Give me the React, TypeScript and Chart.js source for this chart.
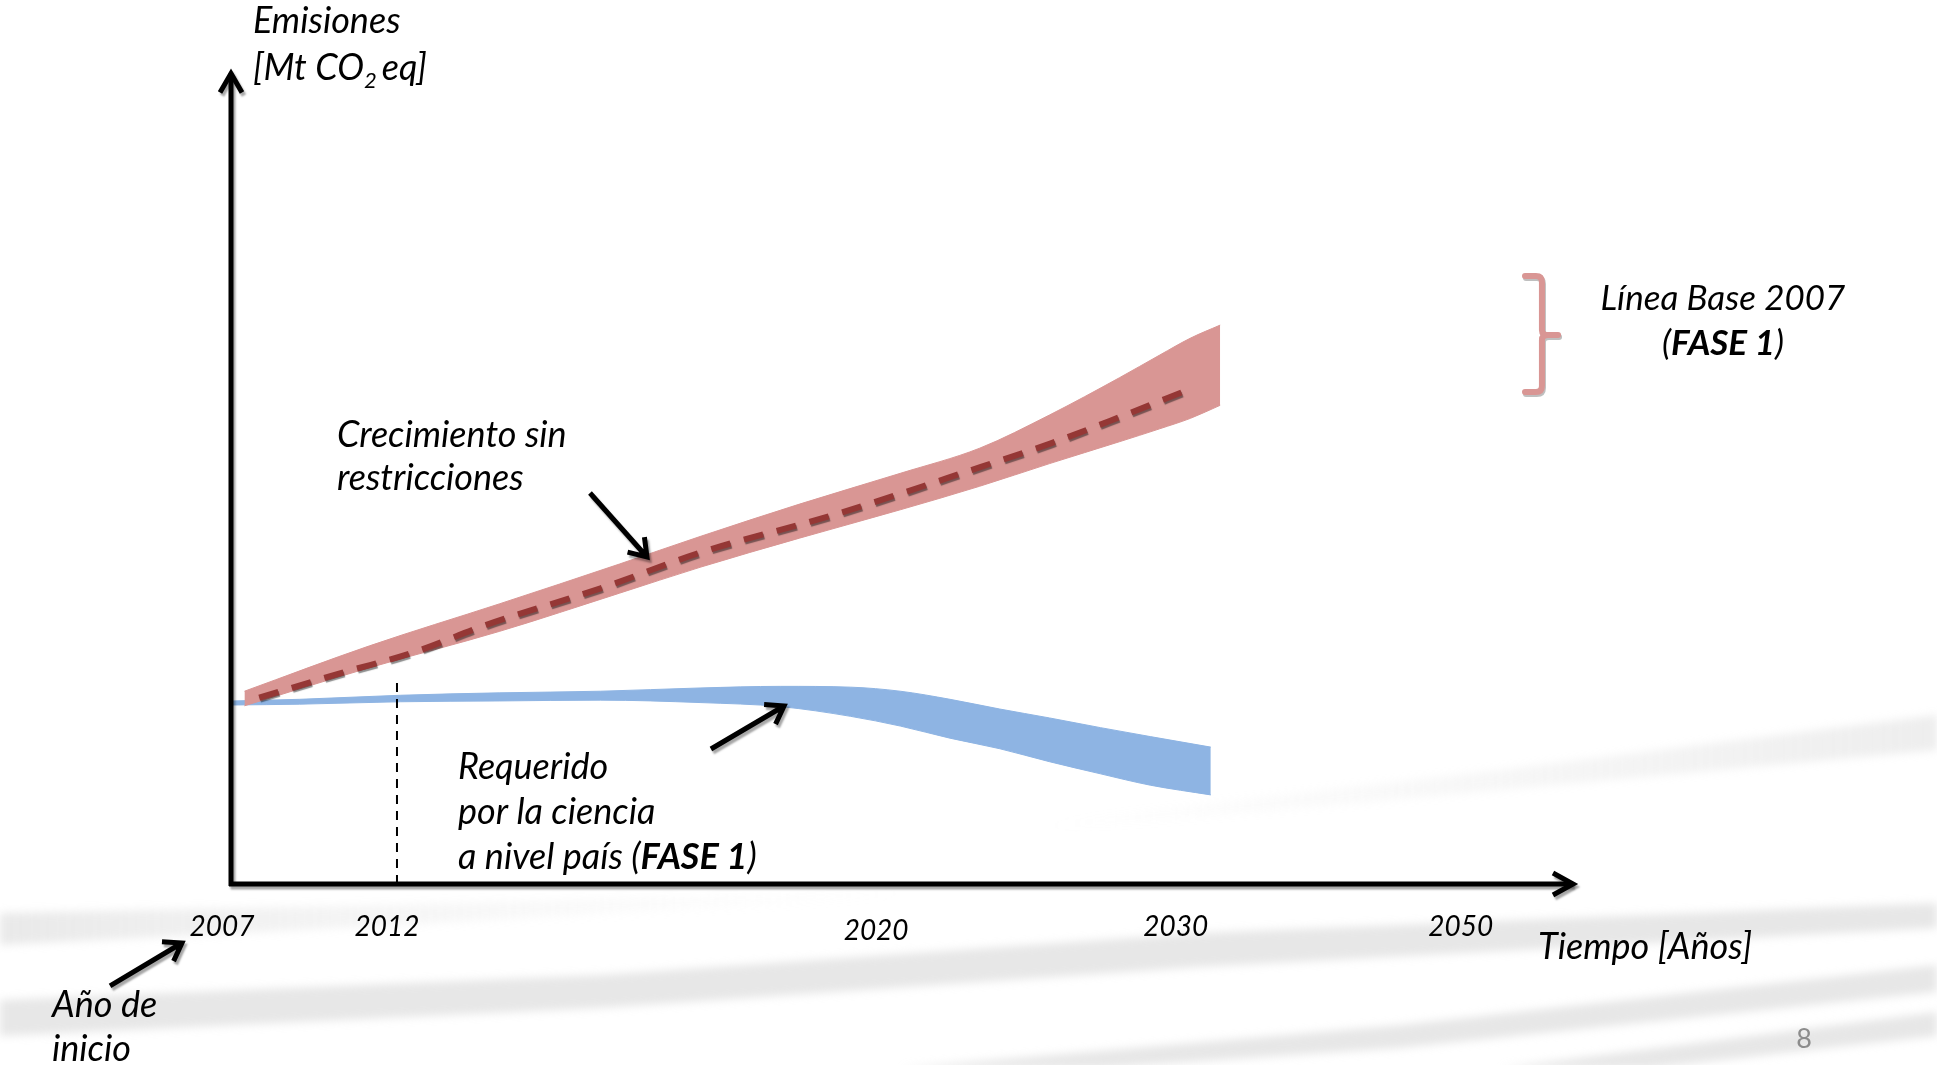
import React, { useEffect, useRef } from 'react';
import { Chart, registerables } from 'chart.js';

Chart.register(...registerables);

const W = 1937;
const H = 1065;

// Schematic time axis (0 = start year 2007, 100 = end of the axis arrow)
const tickLabels = ['2007', '2012', '2020', '2030', '2050'];
const tickPositions = [-0.67, 11.6, 48.0, 70.3, 91.5];

// "Crecimiento sin restricciones" band (Línea Base 2007, FASE 1)
const redX = [1.0, 10.3, 20.0, 28.9, 34.9, 42.3, 49.8, 55.7, 60.9, 66.1, 69.1, 71.4, 73.6];
const redHigh = [23.8, 29.4, 34.6, 39.5, 42.9, 46.9, 50.7, 53.8, 57.9, 62.5, 65.3, 67.4, 69.0];
const redLow = [22.0, 26.7, 31.2, 35.9, 39.1, 42.7, 46.2, 49.1, 51.9, 54.6, 56.2, 57.5, 59.1];

// Central (dashed) projection
const baseX = [2.1, 8.3, 13.6, 19.0, 27.5, 34.9, 45.3, 55.8, 61.0, 66.2, 71.2];
const baseY = [23.0, 26.1, 28.6, 32.0, 36.5, 40.9, 45.8, 51.5, 54.4, 57.7, 61.0];

// "Requerido por la ciencia" band
const blueX = [0.15, 5.1, 12.6, 20.0, 27.5, 34.9, 40.9, 46.1, 49.8, 53.5, 57.2, 60.9, 64.7, 68.4, 72.9];
const blueHigh = [22.6, 22.8, 23.3, 23.6, 23.8, 24.2, 24.4, 24.3, 23.8, 22.8, 21.6, 20.5, 19.3, 18.2, 16.9];
const blueLow = [22.1, 22.2, 22.5, 22.6, 22.7, 22.4, 21.9, 20.7, 19.5, 18.0, 16.7, 15.1, 13.6, 12.2, 11.0];

// 2012 milestone
const milestoneX = 12.35;
const milestoneTop = 24.8;

const FONT = "Lato, 'Open Sans', sans-serif";
const RED = '#D99694';
const BLUE = '#8EB4E3';
const DARKRED = '#953735';

const pts = (xs: number[], ys: number[]) => xs.map((x, i) => ({ x, y: ys[i] }));

export default function App() {
  const ref = useRef<HTMLCanvasElement>(null);

  useEffect(() => {
    document.body.style.margin = '0';
    document.body.style.overflow = 'hidden';
    const canvas = ref.current;
    if (!canvas) return;

    const deco = {
      id: 'deco',
      beforeDraw(chart: any) {
        const ctx = chart.ctx as CanvasRenderingContext2D;
        ctx.save();
        ctx.fillStyle = '#ffffff';
        ctx.fillRect(0, 0, W, H);
        ctx.filter = 'blur(4px)';
        const band = (p: number[][], c: string | CanvasGradient) => {
          ctx.beginPath();
          ctx.moveTo(p[0][0], p[0][1]);
          for (let i = 1; i < p.length; i++) ctx.lineTo(p[i][0], p[i][1]);
          ctx.closePath();
          ctx.fillStyle = c;
          ctx.fill();
        };
        band([[0, 1000], [600, 975], [1200, 933], [1937, 903], [1937, 928], [1200, 967], [600, 1008], [0, 1036]], 'rgba(195,195,195,0.4)');
        const gB = ctx.createLinearGradient(0, 0, 900, 0);
        gB.addColorStop(0, 'rgba(200,200,200,0.4)');
        gB.addColorStop(0.5, 'rgba(215,215,215,0.2)');
        gB.addColorStop(1, 'rgba(230,230,230,0)');
        band([[0, 913], [400, 905], [900, 890], [900, 897], [400, 925], [0, 945]], gB);
        band([[900, 1068], [1400, 1025], [1937, 965], [1937, 992], [1400, 1048], [1100, 1068]], 'rgba(195,195,195,0.4)');
        const gD = ctx.createLinearGradient(1050, 0, 1937, 0);
        gD.addColorStop(0, 'rgba(210,210,210,0)');
        gD.addColorStop(1, 'rgba(205,205,205,0.35)');
        band([[1050, 822], [1500, 770], [1937, 715], [1937, 750], [1500, 790], [1050, 830]], gD);
        band([[1500, 1068], [1937, 1012], [1937, 1036], [1650, 1068]], 'rgba(195,195,195,0.4)');
        ctx.restore();
      },
      beforeDatasetDraw(chart: any, args: any) {
        if (args.index === 0) {
          const ctx = chart.ctx as CanvasRenderingContext2D;
          ctx.save();
          ctx.shadowColor = 'rgba(0,0,0,0.45)';
          ctx.shadowOffsetX = 1;
          ctx.shadowOffsetY = 2;
          ctx.shadowBlur = 1;
        }
      },
      afterDatasetDraw(chart: any, args: any) {
        if (args.index === 0) chart.ctx.restore();
      },
      afterDatasetsDraw(chart: any) {
        const ctx = chart.ctx as CanvasRenderingContext2D;
        const sx = (u: number) => chart.scales.x.getPixelForValue(u);
        const sy = (v: number) => chart.scales.y.getPixelForValue(v);

        // 2012 dashed milestone
        ctx.save();
        ctx.strokeStyle = '#000';
        ctx.lineWidth = 2;
        ctx.setLineDash([9, 7]);
        ctx.beginPath();
        ctx.moveTo(sx(milestoneX), sy(milestoneTop));
        ctx.lineTo(sx(milestoneX), sy(0));
        ctx.stroke();
        ctx.restore();

        const shadowOn = () => {
          ctx.shadowColor = 'rgba(0,0,0,0.35)';
          ctx.shadowOffsetX = 2;
          ctx.shadowOffsetY = 3;
          ctx.shadowBlur = 2;
        };

        // axes
        ctx.save();
        shadowOn();
        ctx.strokeStyle = '#000';
        ctx.lineWidth = 5;
        ctx.lineJoin = 'miter';
        const ox = sx(0), oy = sy(0);
        const tx = sx(100), ty = sy(100.3);
        ctx.beginPath();
        ctx.moveTo(ox, oy + 2);
        ctx.lineTo(ox, ty + 2);
        ctx.moveTo(ox - 2, oy);
        ctx.lineTo(tx - 2, oy);
        ctx.stroke();
        ctx.beginPath();
        ctx.moveTo(ox - 11, ty + 21);
        ctx.lineTo(ox, ty + 2);
        ctx.lineTo(ox + 11, ty + 21);
        ctx.moveTo(tx - 22, oy - 11);
        ctx.lineTo(tx - 2, oy);
        ctx.lineTo(tx - 22, oy + 11);
        ctx.stroke();
        ctx.restore();

        // arrows
        const arrow = (u1: number, v1: number, u2: number, v2: number) => {
          const x1 = sx(u1), y1 = sy(v1), x2 = sx(u2), y2 = sy(v2);
          const a = Math.atan2(y2 - y1, x2 - x1);
          const L = 20, s = 0.6;
          ctx.save();
          shadowOn();
          ctx.strokeStyle = '#000';
          ctx.lineWidth = 5;
          ctx.beginPath();
          ctx.moveTo(x1, y1);
          ctx.lineTo(x2 - 2 * Math.cos(a), y2 - 2 * Math.sin(a));
          ctx.moveTo(x2 - L * Math.cos(a - s), y2 - L * Math.sin(a - s));
          ctx.lineTo(x2, y2);
          ctx.lineTo(x2 - L * Math.cos(a + s), y2 - L * Math.sin(a + s));
          ctx.stroke();
          ctx.restore();
        };
        arrow(26.71, 48.27, 30.95, 40.37);
        arrow(35.71, 16.67, 41.15, 21.98);
        arrow(-9.0, -12.59, -3.65, -7.28);

        // bracket
        ctx.save();
        ctx.shadowColor = 'rgba(0,0,0,0.25)';
        ctx.shadowOffsetX = 1;
        ctx.shadowOffsetY = 2;
        ctx.strokeStyle = RED;
        ctx.lineWidth = 6;
        ctx.lineCap = 'round';
        const bl = sx(96.28), bv = sx(97.54), bt = sx(98.74);
        const yT = sy(75.06), yM = sy(67.78), yB = sy(60.74);
        ctx.beginPath();
        ctx.moveTo(bl, yT);
        ctx.lineTo(bv - 6, yT);
        ctx.quadraticCurveTo(bv, yT, bv, yT + 6);
        ctx.lineTo(bv, yM - 5);
        ctx.quadraticCurveTo(bv, yM, bv + 6, yM);
        ctx.lineTo(bt, yM);
        ctx.moveTo(bv + 6, yM);
        ctx.quadraticCurveTo(bv, yM, bv, yM + 5);
        ctx.lineTo(bv, yB - 6);
        ctx.quadraticCurveTo(bv, yB, bv - 6, yB);
        ctx.lineTo(bl, yB);
        ctx.stroke();
        ctx.restore();

        // texts
        type Seg = { t: string; bold?: boolean; size?: number; dy?: number; dx?: number };
        const draw = (segs: Seg[], u: number, v: number, align: 'left' | 'center' = 'left', size = 36, color = '#000', italic = true) => {
          ctx.save();
          ctx.fillStyle = color;
          ctx.textBaseline = 'alphabetic';
          ctx.textAlign = 'left';
          const fontOf = (sg: Seg) => `${italic ? 'italic ' : ''}${sg.bold ? 'bold ' : ''}${sg.size ?? size}px ${FONT}`;
          let total = 0;
          segs.forEach((sg) => {
            ctx.font = fontOf(sg);
            total += ctx.measureText(sg.t).width + (sg.dx ?? 0);
          });
          let x = align === 'center' ? sx(u) - total / 2 : sx(u);
          const y = sy(v);
          segs.forEach((sg) => {
            ctx.font = fontOf(sg);
            x += sg.dx ?? 0;
            ctx.fillText(sg.t, x, y + (sg.dy ?? 0));
            x += ctx.measureText(sg.t).width;
          });
          ctx.restore();
        };

        draw([{ t: 'Emisiones' }], 1.64, 105.06);
        draw([{ t: '[Mt CO' }, { t: '2', size: 22, dy: 8 }, { t: 'eq]', dx: 5 }], 1.64, 99.26);
        draw([{ t: 'Crecimiento sin' }], 7.89, 54.0);
        draw([{ t: 'restricciones' }], 7.89, 48.6);
        draw([{ t: 'Requerido' }], 16.89, 13.0);
        draw([{ t: 'por la ciencia' }], 16.89, 7.4);
        draw([{ t: 'a nivel país (' }, { t: 'FASE 1', bold: true }, { t: ')' }], 16.89, 1.85);
        draw([{ t: 'Línea Base 2007' }], 111.01, 70.86, 'center', 35);
        draw([{ t: '(' }, { t: 'FASE 1', bold: true }, { t: ')' }], 111.01, 65.3, 'center', 35);
        draw([{ t: 'Tiempo [Años]' }], 97.25, -9.3);
        draw([{ t: 'Año de' }], -13.32, -16.42);
        draw([{ t: 'inicio' }], -13.32, -21.9);
        tickLabels.forEach((lab, i) => {
          draw([{ t: lab }], tickPositions[i], lab === '2020' ? -6.91 : -6.42, 'center', 28);
        });
        draw([{ t: '8' }], 117.04, -20.25, 'center', 27, '#8c8c8c', false);
      },
    };

    const chart = new Chart(canvas, {
      type: 'line',
      data: {
        datasets: [
          {
            label: 'Línea base',
            data: pts(baseX, baseY),
            borderColor: DARKRED,
            borderWidth: 6,
            borderDash: [20, 14],
            borderCapStyle: 'butt',
            pointRadius: 0,
            fill: false,
            cubicInterpolationMode: 'monotone',
            order: 0,
          },
          {
            label: 'Crecimiento sin restricciones (alto)',
            data: pts(redX, redHigh),
            borderColor: RED,
            backgroundColor: RED,
            borderWidth: 1,
            pointRadius: 0,
            fill: '+1',
            cubicInterpolationMode: 'monotone',
            order: 1,
          },
          {
            label: 'Crecimiento sin restricciones (bajo)',
            data: pts(redX, redLow),
            borderColor: RED,
            borderWidth: 1,
            pointRadius: 0,
            fill: false,
            cubicInterpolationMode: 'monotone',
            order: 1,
          },
          {
            label: 'Requerido por la ciencia (alto)',
            data: pts(blueX, blueHigh),
            borderColor: BLUE,
            backgroundColor: BLUE,
            borderWidth: 1,
            pointRadius: 0,
            fill: '+1',
            cubicInterpolationMode: 'monotone',
            order: 1,
          },
          {
            label: 'Requerido por la ciencia (bajo)',
            data: pts(blueX, blueLow),
            borderColor: BLUE,
            borderWidth: 1,
            pointRadius: 0,
            fill: false,
            cubicInterpolationMode: 'monotone',
            order: 1,
          },
        ],
      },
      options: {
        responsive: false,
        animation: false,
        devicePixelRatio: 1,
        events: [],
        layout: { padding: { left: 231, right: W - 1575, top: 74, bottom: H - 884 } },
        scales: {
          x: { type: 'linear', min: 0, max: 100, display: false },
          y: { type: 'linear', min: 0, max: 100, display: false },
        },
        plugins: { legend: { display: false }, tooltip: { enabled: false }, title: { display: false } },
      } as any,
      plugins: [deco],
    });

    return () => chart.destroy();
  }, []);

  return <canvas ref={ref} width={W} height={H} style={{ display: 'block' }} />;
}
